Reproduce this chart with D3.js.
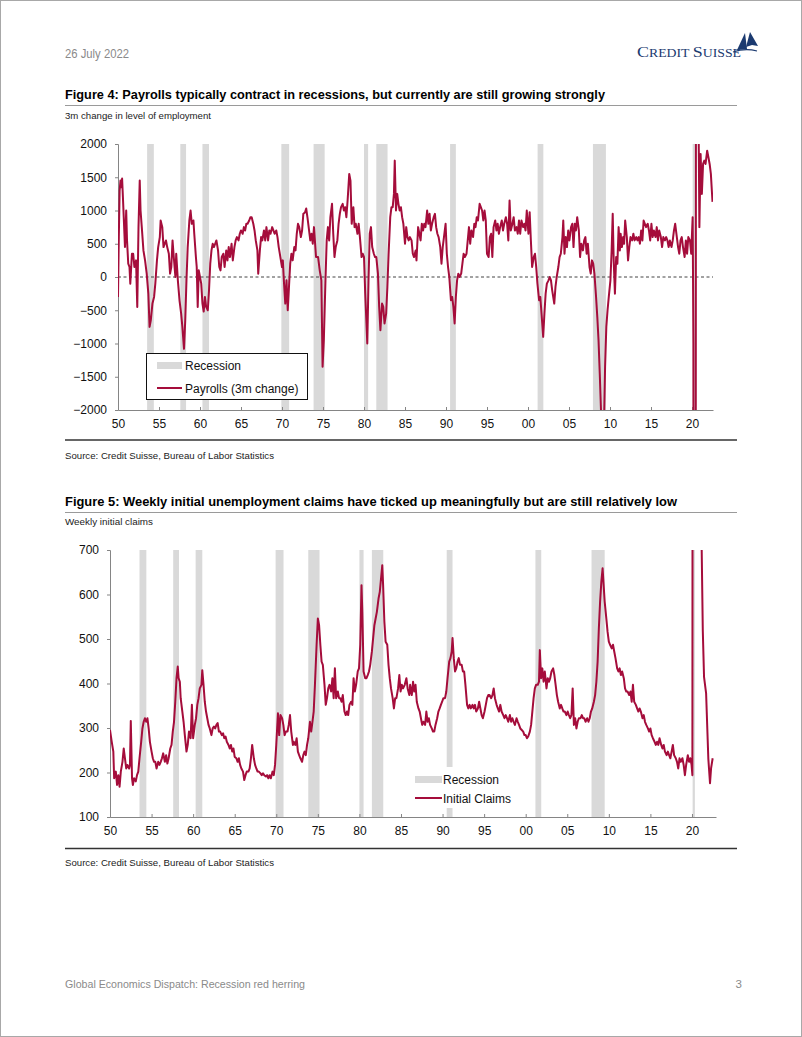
<!DOCTYPE html>
<html><head><meta charset="utf-8">
<script src="https://cdn.jsdelivr.net/npm/d3@7"></script>
<style>
body{margin:0;background:#fff;}
svg{display:block;font-family:"Liberation Sans",Arial,sans-serif;}
</style></head><body>
<svg id="page" width="802" height="1037"></svg>
<script>
// ---------- data ----------
const recessionStarts = [1953.55,1957.6,1960.3,1969.92,1973.85,1980.0,1981.5,1990.5,2001.17,2007.92,2020.08];
const recessionEnds   = [1954.37,1958.3,1961.1,1970.87,1975.2,1980.5,1982.87,1991.2,2001.87,2009.5,2020.35];
const xTickYears  = [1950,1955,1960,1965,1970,1975,1980,1985,1990,1995,2000,2005,2010,2015,2020];
const xTickLabels = ["50","55","60","65","70","75","80","85","90","95","00","05","10","15","20"];
const payrollTicks = [-2000,-1500,-1000,-500,0,500,1000,1500,2000];
const claimsTicks  = [100,200,300,400,500,600,700];

const payrollDates = [1950.0,1950.1,1950.2,1950.3,1950.4,1950.5,1950.6,1950.7,1950.85,1951.0,1951.1,1951.25,1951.4,1951.5,1951.7,1951.85,1952.0,1952.2,1952.35,1952.5,1952.65,1952.75,1952.9,1953.1,1953.3,1953.5,1953.7,1953.85,1954.0,1954.2,1954.4,1954.55,1954.75,1954.9,1955.1,1955.2,1955.4,1955.55,1955.7,1955.85,1956.0,1956.2,1956.35,1956.5,1956.65,1956.8,1957.0,1957.1,1957.3,1957.5,1957.7,1957.85,1958.05,1958.2,1958.35,1958.5,1958.7,1958.85,1959.0,1959.2,1959.3,1959.5,1959.6,1959.72,1959.85,1960.0,1960.15,1960.3,1960.45,1960.6,1960.75,1960.95,1961.1,1961.25,1961.4,1961.55,1961.7,1961.85,1962.0,1962.2,1962.35,1962.5,1962.65,1962.85,1963.0,1963.2,1963.35,1963.5,1963.65,1963.85,1964.0,1964.2,1964.35,1964.5,1964.7,1964.85,1965.0,1965.2,1965.35,1965.5,1965.65,1965.8,1966.0,1966.15,1966.3,1966.5,1966.65,1966.8,1967.0,1967.1,1967.3,1967.45,1967.6,1967.8,1967.95,1968.1,1968.3,1968.45,1968.6,1968.8,1968.95,1969.1,1969.3,1969.45,1969.6,1969.8,1970.0,1970.1,1970.25,1970.4,1970.55,1970.7,1970.85,1971.0,1971.15,1971.3,1971.5,1971.65,1971.8,1971.95,1972.1,1972.3,1972.45,1972.6,1972.8,1972.95,1973.1,1973.3,1973.45,1973.6,1973.75,1973.9,1974.15,1974.4,1974.6,1974.8,1974.95,1975.1,1975.3,1975.45,1975.6,1975.75,1975.9,1976.1,1976.25,1976.4,1976.55,1976.75,1976.9,1977.05,1977.2,1977.4,1977.55,1977.7,1977.85,1978.0,1978.2,1978.35,1978.5,1978.7,1978.85,1979.0,1979.2,1979.35,1979.5,1979.7,1979.85,1980.0,1980.15,1980.4,1980.55,1980.7,1980.85,1981.0,1981.2,1981.35,1981.5,1981.7,1981.85,1982.0,1982.2,1982.35,1982.5,1982.7,1982.85,1983.0,1983.2,1983.35,1983.5,1983.65,1983.75,1983.9,1984.05,1984.2,1984.35,1984.5,1984.65,1984.8,1985.0,1985.15,1985.3,1985.45,1985.6,1985.8,1985.95,1986.1,1986.3,1986.4,1986.6,1986.75,1986.9,1987.05,1987.2,1987.35,1987.5,1987.7,1987.85,1988.0,1988.15,1988.3,1988.5,1988.65,1988.8,1988.95,1989.1,1989.3,1989.45,1989.6,1989.8,1989.95,1990.1,1990.25,1990.4,1990.6,1990.75,1990.9,1991.05,1991.2,1991.35,1991.5,1991.65,1991.85,1992.0,1992.15,1992.3,1992.5,1992.65,1992.8,1992.95,1993.1,1993.3,1993.45,1993.6,1993.75,1993.9,1994.1,1994.25,1994.4,1994.55,1994.7,1994.85,1995.0,1995.2,1995.35,1995.5,1995.65,1995.8,1996.0,1996.15,1996.3,1996.45,1996.6,1996.8,1996.95,1997.1,1997.3,1997.45,1997.6,1997.75,1997.9,1998.1,1998.25,1998.4,1998.6,1998.75,1998.9,1999.05,1999.2,1999.4,1999.55,1999.7,1999.85,2000.05,2000.2,2000.35,2000.5,2000.7,2000.85,2001.0,2001.15,2001.35,2001.5,2001.65,2001.85,2002.0,2002.15,2002.3,2002.5,2002.65,2002.8,2002.95,2003.2,2003.35,2003.5,2003.7,2003.85,2004.0,2004.2,2004.3,2004.45,2004.6,2004.75,2004.9,2005.05,2005.25,2005.4,2005.55,2005.7,2005.85,2006.0,2006.2,2006.35,2006.5,2006.7,2006.85,2007.0,2007.15,2007.3,2007.5,2007.65,2007.8,2007.95,2008.1,2008.3,2008.45,2008.6,2008.75,2008.9,2009.05,2009.2,2009.3,2009.4,2009.55,2009.7,2009.85,2010.05,2010.2,2010.33,2010.45,2010.6,2010.75,2010.9,2011.05,2011.2,2011.3,2011.45,2011.6,2011.72,2011.85,2012.05,2012.2,2012.35,2012.5,2012.7,2012.85,2013.0,2013.2,2013.35,2013.5,2013.65,2013.8,2013.95,2014.1,2014.25,2014.4,2014.6,2014.75,2014.9,2015.05,2015.2,2015.35,2015.55,2015.7,2015.85,2016.0,2016.2,2016.35,2016.5,2016.7,2016.85,2017.0,2017.15,2017.3,2017.5,2017.65,2017.8,2017.95,2018.1,2018.3,2018.45,2018.6,2018.75,2018.9,2019.1,2019.25,2019.4,2019.55,2019.75,2019.9,2020.08,2020.17,2020.25,2020.33,2020.42,2020.5,2020.58,2020.67,2020.75,2020.83,2020.9,2021.05,2021.2,2021.35,2021.5,2021.65,2021.85,2022.0,2022.15,2022.3,2022.5];
const payrollValues = [-300,600,1300,1450,1350,1480,1200,900,450,1000,550,200,150,-100,350,350,150,250,-450,750,1450,1000,750,400,250,50,-250,-750,-650,-400,-300,-100,250,450,600,850,750,450,500,550,450,350,50,150,550,300,0,350,-50,-350,-550,-750,-1080,-650,-50,450,850,1000,800,850,650,300,150,-450,100,0,-100,-400,-520,-300,-450,-500,-200,200,400,500,450,500,550,400,150,100,300,350,150,400,250,450,300,500,250,450,550,600,550,650,700,650,750,700,800,800,850,900,900,800,700,550,400,50,400,600,550,700,550,750,550,700,650,750,700,650,700,600,450,300,150,250,-100,-400,-50,-500,-150,200,350,250,450,400,650,800,750,600,700,950,970,1030,900,700,550,650,500,750,300,300,100,-50,-1350,-950,-50,550,750,550,900,1100,650,300,450,550,800,950,1050,1100,1000,1050,900,1150,1550,1450,800,1050,750,800,650,800,600,300,350,300,-250,-1000,-50,650,750,450,350,300,300,50,-450,-800,-400,-450,-700,-550,-150,350,900,1050,1050,1250,1750,1000,1250,1100,1000,1050,900,800,500,750,600,550,600,550,350,300,400,250,750,650,550,800,700,800,750,1000,800,950,700,800,900,950,750,650,600,450,200,450,650,800,350,150,0,-350,-300,-450,-700,-300,-50,50,0,50,200,350,300,350,550,750,500,700,600,800,750,900,850,1100,1050,1000,850,1000,850,350,300,600,650,300,750,850,700,800,650,750,850,700,800,900,800,550,1150,700,800,900,700,750,650,850,650,850,750,800,700,1000,650,975,550,150,300,350,150,-100,-350,-300,-550,-900,-550,-250,-100,-50,0,-50,-200,-400,-150,0,150,300,350,600,850,350,600,450,700,550,750,800,450,800,700,900,700,300,500,400,550,600,350,500,150,50,250,200,50,-300,-600,-950,-1450,-2000,-2250,-2200,-2000,-1350,-750,-500,-300,-50,400,950,250,-250,300,200,750,400,650,450,600,500,850,600,250,450,600,550,650,550,600,550,600,500,700,550,850,800,750,800,700,550,800,600,700,600,750,550,700,600,450,600,550,600,550,450,550,450,550,700,800,650,450,350,550,600,450,300,550,350,600,550,350,900,-1000,-20000,-19000,-14000,9000,8000,4000,2800,1900,750,1850,1250,1700,1750,1700,1900,1800,1700,1550,1130];

const claimsDates = [1950.0,1950.2,1950.4,1950.5,1950.7,1950.85,1951.0,1951.15,1951.3,1951.5,1951.65,1951.8,1951.95,1952.1,1952.3,1952.4,1952.5,1952.65,1952.75,1952.9,1953.1,1953.25,1953.4,1953.55,1953.75,1953.9,1954.05,1954.2,1954.35,1954.5,1954.65,1954.8,1955.0,1955.15,1955.3,1955.45,1955.6,1955.8,1955.95,1956.1,1956.25,1956.4,1956.6,1956.75,1956.9,1957.05,1957.25,1957.4,1957.55,1957.7,1957.85,1958.0,1958.15,1958.25,1958.4,1958.5,1958.7,1958.85,1959.0,1959.2,1959.35,1959.5,1959.7,1959.85,1960.0,1960.2,1960.35,1960.5,1960.65,1960.8,1961.0,1961.1,1961.25,1961.4,1961.55,1961.7,1961.85,1962.0,1962.2,1962.35,1962.5,1962.65,1962.8,1962.95,1963.1,1963.25,1963.45,1963.6,1963.75,1963.9,1964.05,1964.25,1964.4,1964.55,1964.7,1964.85,1965.0,1965.2,1965.35,1965.5,1965.65,1965.8,1966.0,1966.15,1966.3,1966.45,1966.65,1966.8,1966.95,1967.1,1967.3,1967.45,1967.6,1967.75,1967.9,1968.1,1968.25,1968.4,1968.55,1968.75,1968.9,1969.05,1969.2,1969.35,1969.55,1969.7,1969.85,1970.0,1970.2,1970.35,1970.5,1970.7,1970.85,1971.0,1971.15,1971.35,1971.5,1971.65,1971.8,1972.0,1972.1,1972.3,1972.45,1972.6,1972.75,1972.9,1973.1,1973.25,1973.4,1973.55,1973.7,1973.85,1974.05,1974.2,1974.35,1974.5,1974.65,1974.85,1975.0,1975.15,1975.3,1975.45,1975.6,1975.8,1975.95,1976.1,1976.25,1976.4,1976.6,1976.75,1976.9,1977.05,1977.2,1977.4,1977.55,1977.7,1977.85,1978.0,1978.2,1978.35,1978.5,1978.65,1978.8,1979.0,1979.15,1979.3,1979.45,1979.6,1979.8,1979.95,1980.1,1980.25,1980.35,1980.5,1980.7,1980.85,1981.0,1981.15,1981.3,1981.5,1981.65,1981.8,1981.95,1982.1,1982.3,1982.45,1982.6,1982.75,1982.85,1983.0,1983.15,1983.35,1983.5,1983.65,1983.8,1984.0,1984.15,1984.3,1984.45,1984.65,1984.8,1984.95,1985.1,1985.25,1985.45,1985.65,1985.8,1986.0,1986.1,1986.3,1986.45,1986.6,1986.75,1986.9,1987.1,1987.25,1987.4,1987.55,1987.7,1987.9,1988.05,1988.2,1988.35,1988.5,1988.7,1988.85,1989.0,1989.15,1989.35,1989.5,1989.65,1989.8,1989.95,1990.1,1990.3,1990.45,1990.6,1990.8,1990.95,1991.1,1991.2,1991.35,1991.5,1991.65,1991.8,1991.95,1992.1,1992.3,1992.45,1992.6,1992.75,1992.95,1993.1,1993.25,1993.4,1993.6,1993.75,1993.9,1994.05,1994.25,1994.4,1994.55,1994.7,1994.85,1995.05,1995.2,1995.35,1995.5,1995.65,1995.85,1996.0,1996.15,1996.3,1996.5,1996.65,1996.8,1996.95,1997.1,1997.3,1997.45,1997.6,1997.75,1997.9,1998.1,1998.25,1998.4,1998.55,1998.7,1998.9,1999.05,1999.2,1999.35,1999.5,1999.7,1999.85,2000.0,2000.15,2000.3,2000.5,2000.65,2000.8,2000.95,2001.1,2001.25,2001.45,2001.6,2001.7,2001.85,2002.0,2002.15,2002.3,2002.5,2002.65,2002.8,2002.95,2003.1,2003.3,2003.45,2003.6,2003.75,2003.9,2004.1,2004.25,2004.4,2004.55,2004.7,2004.9,2005.05,2005.2,2005.35,2005.5,2005.65,2005.8,2005.95,2006.1,2006.25,2006.4,2006.6,2006.75,2006.9,2007.05,2007.2,2007.4,2007.55,2007.7,2007.85,2008.0,2008.2,2008.35,2008.5,2008.65,2008.8,2008.95,2009.1,2009.25,2009.35,2009.5,2009.7,2009.85,2010.0,2010.15,2010.35,2010.5,2010.65,2010.8,2011.0,2011.15,2011.3,2011.45,2011.6,2011.8,2011.95,2012.1,2012.25,2012.45,2012.6,2012.75,2012.9,2013.05,2013.25,2013.4,2013.55,2013.7,2013.85,2014.05,2014.2,2014.35,2014.5,2014.7,2014.85,2015.0,2015.15,2015.3,2015.5,2015.65,2015.8,2015.95,2016.1,2016.3,2016.45,2016.6,2016.75,2016.95,2017.1,2017.25,2017.4,2017.55,2017.7,2017.85,2018.05,2018.2,2018.35,2018.5,2018.65,2018.85,2019.0,2019.15,2019.3,2019.5,2019.65,2019.8,2019.95,2020.05,2020.2,2020.35,2020.5,2020.7,2020.9,2021.05,2021.17,2021.3,2021.45,2021.7,2021.97,2022.17,2022.3,2022.49];
const claimsValues = [296,270,247,187,202,172,194,168,202,224,254,232,209,217,209,217,316,187,172,187,180,194,202,232,269,299,314,322,314,322,299,269,247,232,224,224,209,224,217,224,232,243,224,239,220,232,254,262,292,314,359,412,438,412,404,367,337,314,284,247,262,292,277,352,277,307,322,352,367,389,397,430,397,359,337,322,307,299,284,299,303,299,307,311,292,292,284,288,277,281,269,262,254,262,247,254,235,232,224,232,217,209,202,183,194,202,202,209,232,262,232,217,209,202,202,198,194,198,194,191,194,187,194,187,202,194,217,262,333,284,329,322,307,284,292,292,307,329,292,262,269,262,277,247,239,232,224,239,247,239,262,277,314,292,314,337,397,487,546,531,487,449,442,397,352,367,389,397,382,412,367,434,367,382,367,367,359,374,337,329,337,329,352,359,352,412,382,397,427,434,487,621,561,427,412,412,419,427,442,472,502,531,546,561,591,606,636,666,621,539,494,487,442,412,389,367,344,367,367,389,419,382,397,389,397,412,389,374,397,374,404,382,397,359,344,337,322,307,314,307,337,314,322,307,299,292,292,307,322,337,344,352,359,367,367,382,412,449,457,472,502,457,427,434,449,457,442,442,427,427,397,352,344,352,344,352,344,352,337,344,359,344,329,322,337,352,367,374,374,367,374,389,367,352,344,337,352,337,329,322,329,322,314,329,314,322,314,307,322,314,307,299,296,292,284,284,277,281,292,307,337,367,389,397,397,404,475,412,434,404,427,389,412,404,412,427,434,419,397,374,359,344,352,344,337,337,329,337,329,322,329,389,307,322,299,314,322,322,329,322,322,314,322,314,322,337,344,359,374,404,449,524,584,629,659,629,584,546,516,494,487,479,487,472,457,434,427,434,419,427,412,389,382,382,374,382,359,397,359,352,344,337,344,337,322,329,314,307,299,292,299,284,277,269,262,269,262,277,262,254,262,247,239,247,239,232,247,262,239,232,224,209,232,224,232,217,194,217,239,224,232,217,194,6000,2500,1400,900,800,750,700,520,415,378,230,176,210,232];

// ---------- page ----------
const svg = d3.select("#page");
svg.append("rect").attr("x",0.5).attr("y",0.5).attr("width",801).attr("height",1036)
  .attr("fill","#fff").attr("stroke","#a8a8a8").attr("stroke-width",1);

function txt(x, y, s, o) {
  o = o || {};
  const t = svg.append("text").attr("x", x).attr("y", y).text(s)
    .attr("font-size", o.size || 12).attr("fill", o.fill || "#000")
    .attr("font-weight", o.weight || "normal");
  if (o.anchor) t.attr("text-anchor", o.anchor);
  if (o.len) t.attr("textLength", o.len).attr("lengthAdjust", "spacingAndGlyphs");
  if (o.family) t.attr("font-family", o.family);
  return t;
}

// header
txt(65, 58, "26 July 2022", {size: 12, fill: "#8a8a8a", len: 64});
const logo = svg.append("text").attr("x", 637).attr("y", 57).attr("fill", "#1b3a70")
  .attr("font-family", "'Liberation Serif','DejaVu Serif',serif")
  .attr("textLength", 104).attr("lengthAdjust", "spacingAndGlyphs");
logo.append("tspan").attr("font-size", 15).text("C");
logo.append("tspan").attr("font-size", 11.5).text("REDIT ");
logo.append("tspan").attr("font-size", 15).text("S");
logo.append("tspan").attr("font-size", 11.5).text("UISSE");
svg.append("path").attr("d", "M737,50 L745,33 L747,49 Z").attr("fill", "#1b3a70");
svg.append("path").attr("d", "M746,47 L750,32 L758,46 L752,45 Z").attr("fill", "#1b3a70");
svg.append("path").attr("d", "M733,52 Q745,48 757,51").attr("fill", "none").attr("stroke", "#1b3a70").attr("stroke-width", 1.2);

// figure texts
txt(65, 98.5, "Figure 4: Payrolls typically contract in recessions, but currently are still growing strongly", {size: 13, weight: "bold", len: 540});
svg.append("line").attr("x1",65).attr("x2",737).attr("y1",105.5).attr("y2",105.5).attr("stroke","#9a9a9a");
txt(65, 118.5, "3m change in level of employment", {size: 9, fill: "#222", len: 146});
svg.append("line").attr("x1",65).attr("x2",737).attr("y1",440).attr("y2",440).attr("stroke","#333").attr("stroke-width",1.5);
txt(65, 458.5, "Source: Credit Suisse, Bureau of Labor Statistics", {size: 9, fill: "#222", len: 209});

txt(65, 506, "Figure 5: Weekly initial unemployment claims have ticked up meaningfully but are still relatively low", {size: 13, weight: "bold", len: 612});
svg.append("line").attr("x1",65).attr("x2",737).attr("y1",512.5).attr("y2",512.5).attr("stroke","#9a9a9a");
txt(65, 525, "Weekly initial claims", {size: 9, fill: "#222", len: 88});
svg.append("line").attr("x1",65).attr("x2",737).attr("y1",848.5).attr("y2",848.5).attr("stroke","#333").attr("stroke-width",1.5);
txt(65, 865.5, "Source: Credit Suisse, Bureau of Labor Statistics", {size: 9, fill: "#222", len: 209});

txt(65, 988, "Global Economics Dispatch: Recession red herring", {size: 11.5, fill: "#8a8a8a", len: 240});
txt(742, 988, "3", {size: 11.5, fill: "#8a8a8a", anchor: "end"});

// ---------- chart builder ----------
const LINE = "#a50d3b", BAR = "#d9d9d9", AXIS = "#858585";

function chart(cfg) {
  const x = d3.scaleLinear().domain(cfg.xDomain).range([cfg.left, cfg.right]);
  const y = d3.scaleLinear().domain(cfg.yDomain).range([cfg.bottom, cfg.top]);
  const g = svg.append("g");
  const clipId = cfg.id + "-clip";
  g.append("clipPath").attr("id", clipId).append("rect")
    .attr("x", cfg.left).attr("y", cfg.top).attr("width", cfg.right - cfg.left).attr("height", cfg.bottom - cfg.top);

  // recessions
  g.append("g").selectAll("rect").data(recessionStarts.map((s, i) => [s, recessionEnds[i]]))
    .join("rect")
    .attr("x", d => x(d[0])).attr("width", d => Math.max(1.5, x(d[1]) - x(d[0])))
    .attr("y", cfg.top).attr("height", cfg.bottom - cfg.top).attr("fill", BAR);

  // zero line
  if (cfg.zero) {
    g.append("line").attr("x1", cfg.left).attr("x2", cfg.right)
      .attr("y1", y(0)).attr("y2", y(0))
      .attr("stroke", "#444").attr("stroke-width", 1).attr("stroke-dasharray", "3,2.5");
  }

  // axes
  const ya = g.append("g").attr("transform", `translate(${cfg.left},0)`)
    .call(d3.axisLeft(y).tickValues(cfg.yTicks).tickSize(3).tickPadding(8).tickFormat(d3.format("d")));
  const xa = g.append("g").attr("transform", `translate(0,${cfg.bottom})`)
    .call(d3.axisBottom(x).tickValues(xTickYears).tickSizeInner(-3).tickSizeOuter(0).tickPadding(9)
      .tickFormat((d, i) => xTickLabels[i]));
  [ya, xa].forEach(a => {
    a.select(".domain").attr("stroke", AXIS);
    a.selectAll(".tick line").attr("stroke", AXIS);
    a.selectAll(".tick text").attr("font-size", 12).attr("fill", "#111")
      .attr("font-family", "'Liberation Sans',Arial,sans-serif");
  });

  // line
  const line = d3.line().x(d => x(d[0])).y(d => y(d[1]));
  g.append("path").datum(cfg.dates.map((d, i) => [d, cfg.values[i]]))
    .attr("clip-path", `url(#${clipId})`)
    .attr("d", line).attr("fill", "none").attr("stroke", LINE)
    .attr("stroke-width", 2).attr("stroke-linejoin", "round");

  return {x, y, g};
}

// Figure 4
const c1 = chart({id: "c1", left: 118, right: 713, top: 144, bottom: 410,
  xDomain: [1950, 2022.56], yDomain: [-2000, 2000], yTicks: payrollTicks,
  dates: payrollDates, values: payrollValues, zero: true});
// legend 1
const lg1 = c1.g.append("g");
lg1.append("rect").attr("x", 146.5).attr("y", 353.5).attr("width", 161).attr("height", 46)
  .attr("fill", "#fff").attr("stroke", "#111").attr("stroke-width", 1);
lg1.append("rect").attr("x", 157).attr("y", 362).attr("width", 25).attr("height", 7).attr("fill", BAR);
lg1.append("line").attr("x1", 157).attr("x2", 182).attr("y1", 388).attr("y2", 388).attr("stroke", LINE).attr("stroke-width", 2);
lg1.append("text").attr("x", 185).attr("y", 369.5).attr("font-size", 12).attr("fill", "#111").text("Recession");
lg1.append("text").attr("x", 185).attr("y", 392.5).attr("font-size", 12).attr("fill", "#111").text("Payrolls (3m change)");

// Figure 5
const c2 = chart({id: "c2", left: 110, right: 716, top: 550, bottom: 817,
  xDomain: [1950, 2022.89], yDomain: [100, 700], yTicks: claimsTicks,
  dates: claimsDates, values: claimsValues, zero: false});
const lg2 = c2.g.append("g");
lg2.append("rect").attr("x", 411).attr("y", 767).attr("width", 105).attr("height", 41).attr("fill", "#fff");
lg2.append("rect").attr("x", 415).attr("y", 776).attr("width", 27).attr("height", 7).attr("fill", BAR);
lg2.append("line").attr("x1", 415).attr("x2", 442).attr("y1", 798).attr("y2", 798).attr("stroke", LINE).attr("stroke-width", 2);
lg2.append("text").attr("x", 443).attr("y", 783.5).attr("font-size", 12).attr("fill", "#111").text("Recession");
lg2.append("text").attr("x", 443).attr("y", 802.5).attr("font-size", 12).attr("fill", "#111").text("Initial Claims");
</script>
</body></html>
